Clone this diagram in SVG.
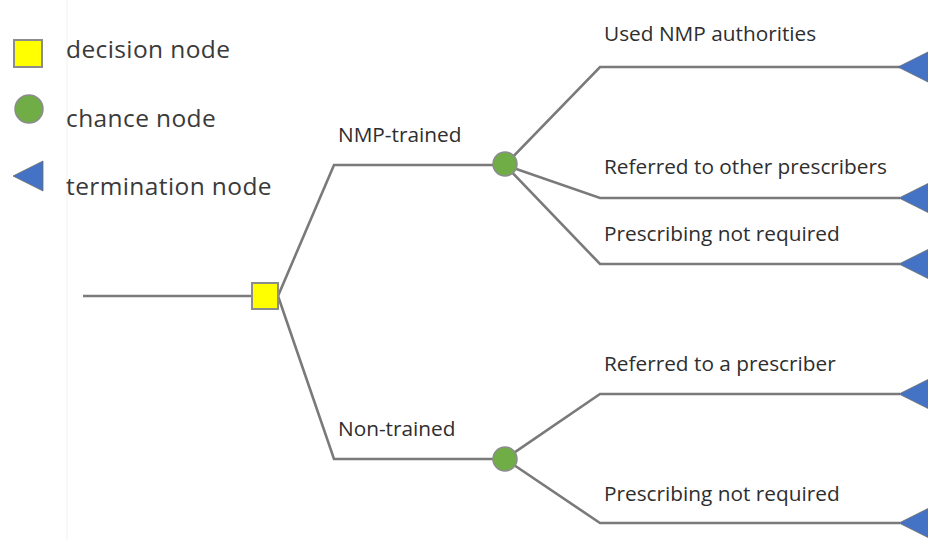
<svg xmlns="http://www.w3.org/2000/svg" width="928" height="540" viewBox="0 0 928 540">
  <defs>
    <style>
      .edge { fill: none; stroke: #7a7a7a; stroke-width: 2.6; stroke-linejoin: miter; }
      .decision { fill: #ffff00; stroke: #8c8c8c; stroke-width: 2; }
      .chance { fill: #70ad47; stroke: #8c8c8c; stroke-width: 1.5; }
      .term { fill: #4472c4; stroke: #6d6d6d; stroke-width: 0.8; }
      .legend { font-family: "Open Sans", "Liberation Sans", sans-serif; font-size: 24.5px; fill: #3a3a3a; letter-spacing: 0.4px; }
      .label { font-family: "Open Sans", "Liberation Sans", sans-serif; font-size: 20.8px; fill: #2e2e2e; }
    </style>
    <polygon id="tri" points="0,0 30,-15 30,15"/>
  </defs>

  <rect width="928" height="540" fill="#ffffff"/>
  <!-- thin panel divider -->
  <line x1="67" y1="0" x2="67" y2="540" stroke="#f6f6f6" stroke-width="1.5"/>

  <!-- legend -->
  <g id="legend">
    <rect class="decision" x="14" y="40" width="28" height="27"/>
    <circle class="chance" cx="29" cy="109" r="14"/>
    <use href="#tri" class="term" transform="translate(13,176)"/>
    <text class="legend" x="66" y="58">decision node</text>
    <text class="legend" x="66" y="127">chance node</text>
    <text class="legend" x="66" y="195">termination node</text>
  </g>

  <!-- connectors -->
  <g id="connectors">
    <line class="edge" x1="83" y1="296" x2="252" y2="296"/>
    <polyline class="edge" points="278,296 334,165 505,165"/>
    <polyline class="edge" points="278,296 334,459 505,459"/>
    <polyline class="edge" points="505,165 600,67 900,67"/>
    <polyline class="edge" points="505,165 600,198 900,198"/>
    <polyline class="edge" points="505,165 600,264 900,264"/>
    <polyline class="edge" points="505,459 600,394 900,394"/>
    <polyline class="edge" points="505,459 600,523 900,523"/>
  </g>

  <!-- decision node -->
  <g id="root">
    <rect class="decision" x="252" y="283" width="26" height="26"/>
  </g>

  <!-- chance nodes -->
  <g id="nmp-trained">
    <circle class="chance" cx="505" cy="164" r="12"/>
    <text class="label" x="338" y="142">NMP-trained</text>
  </g>
  <g id="non-trained">
    <circle class="chance" cx="505" cy="459" r="12"/>
    <text class="label" x="338" y="436">Non-trained</text>
  </g>

  <!-- termination nodes -->
  <g id="used-nmp">
    <use href="#tri" class="term" transform="translate(898,67)"/>
    <text class="label" x="604" y="41">Used NMP authorities</text>
  </g>
  <g id="referred-other">
    <use href="#tri" class="term" transform="translate(899,198)"/>
    <text class="label" x="604" y="174">Referred to other prescribers</text>
  </g>
  <g id="not-required-1">
    <use href="#tri" class="term" transform="translate(899,264)"/>
    <text class="label" x="604" y="241">Prescribing not required</text>
  </g>
  <g id="referred-a">
    <use href="#tri" class="term" transform="translate(899,394)"/>
    <text class="label" x="604" y="371">Referred to a prescriber</text>
  </g>
  <g id="not-required-2">
    <use href="#tri" class="term" transform="translate(899,523)"/>
    <text class="label" x="604" y="501">Prescribing not required</text>
  </g>
</svg>
